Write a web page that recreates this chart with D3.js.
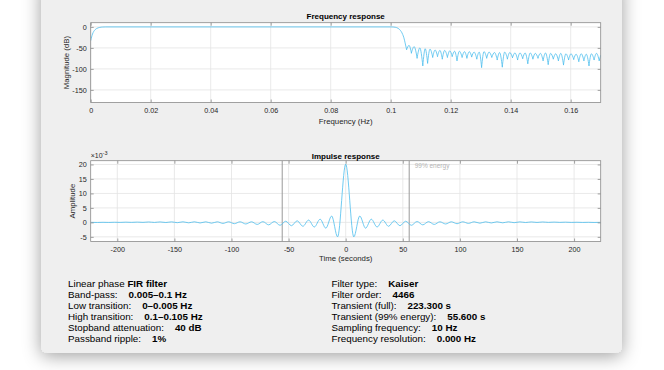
<!DOCTYPE html>
<html>
<head>
<meta charset="utf-8">
<script src="https://cdn.jsdelivr.net/npm/d3@7"></script>
<style>
  body { margin: 0; background: #fff; }
  svg text { font-family: "Liberation Sans", Arial, sans-serif; }
</style>
</head>
<body>
<div id="plot"></div>
<script>
// ---- data ----
// frequency response: passband + transition (Hz, dB)
var passFreq = [0, 0.0003, 0.0006, 0.001, 0.0015, 0.002, 0.0025, 0.003, 0.0035, 0.004, 0.005,
  0.1, 0.1008, 0.1015, 0.102, 0.1025, 0.103, 0.1035, 0.104, 0.1044, 0.1048, 0.1053];
var passDb = [-33, -24, -17, -11, -6.5, -3.8, -2.2, -1.2, -0.6, -0.25, 0,
  0, -0.2, -0.8, -1.8, -3.5, -6.5, -11, -18, -26, -38, -54];

// stopband: alternating null / lobe peak
var stopFreq = [0.1053, 0.1061, 0.1069, 0.1078, 0.1088, 0.1097, 0.1107, 0.1115, 0.1123, 0.1131,
  0.1140, 0.1148, 0.1156, 0.1164, 0.1172, 0.1180, 0.1189, 0.1197, 0.1205, 0.1213,
  0.1221, 0.1229, 0.1238, 0.1246, 0.1254, 0.1262, 0.1270, 0.1278, 0.1287, 0.1295,
  0.1303, 0.1311, 0.1320, 0.1328, 0.1337, 0.1346, 0.1355, 0.1363, 0.1372, 0.1380,
  0.1389, 0.1397, 0.1406, 0.1414, 0.1423, 0.1431, 0.1440, 0.1448, 0.1457, 0.1465,
  0.1474, 0.1482, 0.1491, 0.1499, 0.1508, 0.1516, 0.1525, 0.1533, 0.1542, 0.1550,
  0.1559, 0.1567, 0.1576, 0.1584, 0.1593, 0.1601, 0.1610, 0.1618, 0.1627, 0.1635,
  0.1644, 0.1652, 0.1661, 0.1669, 0.1678, 0.1686, 0.1695, 0.1700];
var stopDb = [-54, -44, -62, -47, -74, -50, -92, -52, -86, -53,
  -72, -55, -70, -56, -76, -56, -72, -57, -70, -58,
  -80, -58, -72, -59, -74, -59, -71, -60, -76, -60,
  -96, -59, -74, -60, -72, -61, -78, -61, -95, -60,
  -76, -61, -73, -62, -78, -62, -75, -62, -87, -62,
  -76, -63, -74, -63, -80, -62, -89, -63, -76, -64,
  -80, -63, -90, -64, -78, -64, -77, -65, -82, -64,
  -80, -65, -92, -64, -78, -63, -80, -68];

// impulse response extrema (seconds, x1e-3)
var impTime = [-223.3, -222.5, -217.5, -212.5, -207.5, -202.5, -197.5, -192.5, -187.5, -182.5,
  -177.5, -172.5, -167.5, -162.5, -157.5, -152.5, -147.5, -142.5, -137.5, -132.5,
  -127.5, -122.5, -117.5, -112.5, -107.5, -102.5, -97.5, -92.5, -87.5, -82.5,
  -77.5, -72.5, -67.5, -62.5, -57.5, -52.5, -47.5, -42.5, -37.5, -32.5,
  -27.5, -22.4, -17.4, -12.3, -7.1, 0, 7.1, 12.3, 17.4, 22.4,
  27.5, 32.5, 37.5, 42.5, 47.5, 52.5, 57.5, 62.5, 67.5, 72.5,
  77.5, 82.5, 87.5, 92.5, 97.5, 102.5, 107.5, 112.5, 117.5, 122.5,
  127.5, 132.5, 137.5, 142.5, 147.5, 152.5, 157.5, 162.5, 167.5, 172.5,
  177.5, 182.5, 187.5, 192.5, 197.5, 202.5, 207.5, 212.5, 217.5, 222.5, 223.3];
var impAmp = [0, 0, -0.03, 0.02, -0.02, 0.04, -0.01, 0.07, 0, 0.1,
  0, 0.14, -0.02, 0.16, -0.05, 0.18, -0.1, 0.2, -0.15, 0.2,
  -0.2, 0.2, -0.28, 0.2, -0.35, 0.2, -0.45, 0.2, -0.55, 0.2,
  -0.7, 0.25, -0.85, 0.3, -1.0, 0.4, -1.15, 0.55, -1.35, 0.8,
  -1.6, 1.1, -2.0, 2.2, -5.0, 20.1, -5.0, 2.2, -2.0, 1.1,
  -1.6, 0.8, -1.35, 0.55, -1.15, 0.4, -1.0, 0.3, -0.85, 0.25,
  -0.7, 0.2, -0.55, 0.2, -0.45, 0.2, -0.35, 0.2, -0.28, 0.2,
  -0.2, 0.2, -0.15, 0.2, -0.1, 0.18, -0.05, 0.16, -0.02, 0.14,
  0, 0.1, 0, 0.07, -0.01, 0.04, -0.02, 0.02, -0.03, 0, 0];
var energyLines = [-55.6, 55.6];

var freqTicks = [0, 0.02, 0.04, 0.06, 0.08, 0.1, 0.12, 0.14, 0.16];
var magTicks = [-150, -100, -50, 0];
var timeTicks = [-200, -150, -100, -50, 0, 50, 100, 150, 200];
var ampTicks = [-5, 0, 5, 10, 15, 20];

var leftInfo = [["Band-pass:", "0.005\u20130.1 Hz"], ["Low transition:", "0\u20130.005 Hz"],
  ["High transition:", "0.1\u20130.105 Hz"], ["Stopband attenuation:", "40 dB"], ["Passband ripple:", "1%"]];
var rightInfo = [["Filter type:", "Kaiser"], ["Filter order:", "4466"], ["Transient (full):", "223.300 s"],
  ["Transient (99% energy):", "55.600 s"], ["Sampling frequency:", "10 Hz"], ["Frequency resolution:", "0.000 Hz"]];

// ---- layout ----
var svgWidth = 664, svgHeight = 370;
var axL = 90.7, axR = 600.7;
var lineColor = "#4DBEEE";
var tickSize = "7.2px", labelSize = "7.8px";

var svg = d3.select("#plot").append("svg")
  .attr("width", svgWidth)
  .attr("height", svgHeight);

var defs = svg.append("defs");
defs.append("filter").attr("id", "shadow")
  .attr("x", "-15%").attr("y", "-15%").attr("width", "130%").attr("height", "135%")
  .append("feDropShadow")
  .attr("dx", 0).attr("dy", 3).attr("stdDeviation", 9)
  .attr("flood-color", "#000").attr("flood-opacity", 0.38);

svg.append("rect")
  .attr("x", 41).attr("y", -20).attr("width", 581).attr("height", 373).attr("rx", 6)
  .attr("fill", "#efefef")
  .attr("filter", "url(#shadow)");

function fmt(d) { return String(d); }

// draws a MATLAB-like axes box; returns the group
function makeAxes(id, x, y, top, bottom, xTicks, yTicks) {
  var g = svg.append("g");
  g.append("rect").attr("x", axL).attr("y", top).attr("width", axR - axL).attr("height", bottom - top)
    .attr("fill", "#fff");
  // grid
  g.selectAll(".vg").data(xTicks).enter().append("line")
    .attr("x1", d => x(d)).attr("x2", d => x(d)).attr("y1", top).attr("y2", bottom)
    .attr("stroke", "#e3e3e3").attr("stroke-width", 0.8);
  g.selectAll(".hg").data(yTicks).enter().append("line")
    .attr("x1", axL).attr("x2", axR).attr("y1", d => y(d)).attr("y2", d => y(d))
    .attr("stroke", "#e3e3e3").attr("stroke-width", 0.8);

  defs.append("clipPath").attr("id", id).append("rect")
    .attr("x", axL).attr("y", top).attr("width", axR - axL).attr("height", bottom - top);

  var plot = g.append("g").attr("clip-path", "url(#" + id + ")");

  var ax = g.append("g").attr("class", "axes");
  ax.append("g").attr("transform", `translate(0,${bottom})`)
    .call(d3.axisBottom(x).tickValues(xTicks).tickFormat(fmt).tickSizeInner(-3).tickSizeOuter(0).tickPadding(5));
  ax.append("g").attr("transform", `translate(0,${top})`)
    .call(d3.axisTop(x).tickValues(xTicks).tickFormat("").tickSizeInner(-3).tickSizeOuter(0));
  ax.append("g").attr("transform", `translate(${axL},0)`)
    .call(d3.axisLeft(y).tickValues(yTicks).tickFormat(fmt).tickSizeInner(-3).tickSizeOuter(0).tickPadding(4));
  ax.append("g").attr("transform", `translate(${axR},0)`)
    .call(d3.axisRight(y).tickValues(yTicks).tickFormat("").tickSizeInner(-3).tickSizeOuter(0));
  ax.selectAll(".domain").remove();
  ax.selectAll(".tick line").attr("stroke", "#8a8a8a").attr("stroke-width", 0.8);
  ax.selectAll(".tick text").attr("font-size", tickSize).attr("fill", "#262626")
    .attr("font-family", "Liberation Sans, Arial, sans-serif");
  g.append("rect").attr("x", axL).attr("y", top).attr("width", axR - axL).attr("height", bottom - top)
    .attr("fill", "none").attr("stroke", "#8a8a8a").attr("stroke-width", 0.8);
  return { g: g, plot: plot };
}

// ---- frequency response ----
var fTop = 22.7, fBottom = 102.5;
var xF = d3.scaleLinear().domain([0, 0.17]).range([axL, axR]);
var yM = d3.scaleLinear().domain([-180, 10]).range([fBottom, fTop]);
var fAx = makeAxes("clipF", xF, yM, fTop, fBottom, freqTicks, magTicks);

var passLine = d3.line().x(d => xF(d[0])).y(d => yM(d[1])).curve(d3.curveMonotoneX);
fAx.plot.append("path")
  .datum(passFreq.map((f, i) => [f, passDb[i]]))
  .attr("d", passLine)
  .attr("fill", "none").attr("stroke", lineColor).attr("stroke-width", 0.8);

// each lobe drawn null -> peak -> null so the nulls stay sharp
var stopPts = stopFreq.map((f, i) => [f, stopDb[i]]);
var lobes = [];
for (var i = 0; i < stopPts.length - 1; i += 2) lobes.push(stopPts.slice(i, i + 3));
fAx.plot.selectAll(".lobe").data(lobes).enter().append("path")
  .attr("d", passLine)
  .attr("fill", "none").attr("stroke", lineColor).attr("stroke-width", 0.8)
  .attr("stroke-linecap", "round");

svg.append("text").attr("x", (axL + axR) / 2).attr("y", 18.5).attr("text-anchor", "middle")
  .attr("font-size", "8px").attr("font-weight", "bold").attr("fill", "#000").text("Frequency response");
svg.append("text").attr("x", (axL + axR) / 2).attr("y", 124).attr("text-anchor", "middle")
  .attr("font-size", labelSize).attr("fill", "#262626").text("Frequency (Hz)");
svg.append("text").attr("transform", `translate(68.5,${(fTop + fBottom) / 2}) rotate(-90)`)
  .attr("text-anchor", "middle").attr("font-size", labelSize).attr("fill", "#262626").text("Magnitude (dB)");

// ---- impulse response ----
var iTop = 160.7, iBottom = 241.5;
var xT = d3.scaleLinear().domain([-223.3, 223.3]).range([axL, axR]);
var yA = d3.scaleLinear().domain([-6.6, 21.3]).range([iBottom, iTop]);
var iAx = makeAxes("clipI", xT, yA, iTop, iBottom, timeTicks, ampTicks);

iAx.plot.selectAll(".energy").data(energyLines).enter().append("line")
  .attr("x1", d => xT(d)).attr("x2", d => xT(d)).attr("y1", iTop).attr("y2", iBottom)
  .attr("stroke", "#9a9a9a").attr("stroke-width", 1);

iAx.plot.append("path")
  .datum(impTime.map((t, i) => [t, impAmp[i]]))
  .attr("d", d3.line().x(d => xT(d[0])).y(d => yA(d[1])).curve(d3.curveMonotoneX))
  .attr("fill", "none").attr("stroke", lineColor).attr("stroke-width", 0.8);

svg.append("text").attr("x", xT(energyLines[1]) + 5.5).attr("y", 168).attr("font-size", "6.5px")
  .attr("fill", "#b4b4b4").text("99% energy");

svg.append("text").attr("x", (axL + axR) / 2).attr("y", 158.5).attr("text-anchor", "middle")
  .attr("font-size", "8px").attr("font-weight", "bold").attr("fill", "#000").text("Impulse response");
svg.append("text").attr("x", (axL + axR) / 2).attr("y", 261).attr("text-anchor", "middle")
  .attr("font-size", labelSize).attr("fill", "#262626").text("Time (seconds)");
svg.append("text").attr("transform", `translate(74.5,${(iTop + iBottom) / 2}) rotate(-90)`)
  .attr("text-anchor", "middle").attr("font-size", labelSize).attr("fill", "#262626").text("Amplitude");
var expo = svg.append("text").attr("x", axL).attr("y", 158).attr("font-size", "7px").attr("fill", "#262626");
expo.append("tspan").text("\u00d710");
expo.append("tspan").attr("dy", -3).attr("font-size", "5.5px").text("-3");

// ---- info text ----
var rowY0 = 286.5, rowStep = 11;
var infoSize = "9.8px";

var title = svg.append("text").attr("x", 68).attr("y", rowY0).attr("font-size", infoSize).attr("fill", "#000");
title.append("tspan").text("Linear phase ");
title.append("tspan").attr("font-weight", "bold").text("FIR filter");

function infoRows(rows, x, firstRow) {
  rows.forEach(function(r, i) {
    var t = svg.append("text").attr("x", x).attr("y", rowY0 + (firstRow + i) * rowStep)
      .attr("font-size", infoSize).attr("fill", "#000");
    var lab = t.append("tspan").text(r[0]);
    var w = lab.node().getComputedTextLength();
    t.append("tspan").attr("x", x + w + 11).attr("font-weight", "bold").text(r[1]);
  });
}
infoRows(leftInfo, 68, 1);
infoRows(rightInfo, 331.5, 0);
</script>
</body>
</html>
